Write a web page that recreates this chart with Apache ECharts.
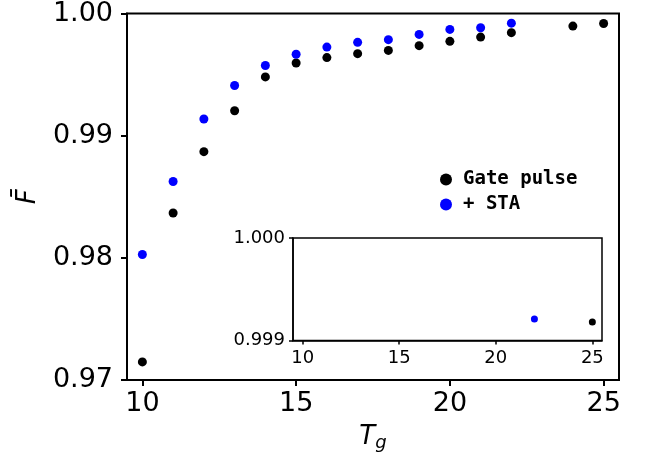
<!DOCTYPE html>
<html>
<head>
<meta charset="utf-8">
<script src="https://cdn.jsdelivr.net/npm/echarts@6/dist/echarts.min.js"></script>
<style>html,body{margin:0;padding:0;background:#fff;}#c{width:651px;height:458px;}</style>
</head>
<body>
<div id="c"></div>
<script>
// Data
const gateX = [10, 11, 12, 13, 14, 15, 16, 17, 18, 19, 20, 21, 22, 24, 25];
const gateY = [0.97148, 0.98367, 0.98869, 0.99204, 0.99481, 0.99595, 0.99639, 0.99671, 0.99698, 0.99737, 0.99772, 0.99807, 0.99843, 0.99897, 0.99918];
const staX = [10, 11, 12, 13, 14, 15, 16, 17, 18, 19, 20, 21, 22];
const staY = [0.98027, 0.98625, 0.99136, 0.99411, 0.99574, 0.99666, 0.99725, 0.99764, 0.99786, 0.99829, 0.99870, 0.99883, 0.99921];
const xTicks = [10, 15, 20, 25];
const yTicks = [0.97, 0.98, 0.99, 1.00];
const insetYTicks = [0.999, 1.000];
const seriesNames = ['Gate pulse', '+ STA'];

const pairs = (xs, ys) => xs.map((x, i) => [x, ys[i]]);
const FONT = 'DejaVu Sans';

const chart = echarts.init(document.getElementById('c'), null, {renderer: 'canvas'});
chart.setOption({
  animation: false,
  backgroundColor: '#fff',
  grid: [
    {left: 127, top: 13, width: 492, height: 367, show: true, borderColor: '#000', borderWidth: 2, backgroundColor: 'transparent'},
    {left: 293, top: 238, width: 309, height: 102.5, show: true, borderColor: '#000', borderWidth: 1.5, backgroundColor: '#fff'}
  ],
  legend: {
    data: seriesNames,
    orient: 'vertical',
    left: 435, top: 165,
    itemWidth: 12, itemHeight: 12, itemGap: 6,
    icon: 'circle',
    textStyle: {fontFamily: 'DejaVu Sans Mono', fontWeight: 'bold', fontSize: 19, color: '#000', padding: [0, 0, 0, 6]}
  },
  xAxis: [
    {
      gridIndex: 0, type: 'value', min: 9.5, max: 25.5,
      axisLine: {show: true, onZero: false, lineStyle: {color: '#000', width: 2}},
      axisTick: {show: true, length: 6, lineStyle: {width: 2, color: '#000'}, customValues: xTicks},
      axisLabel: {customValues: xTicks, fontFamily: FONT, fontSize: 27, color: '#000', margin: 10},
      splitLine: {show: false},
      name: '{t|T}{g|g}', nameLocation: 'middle', nameGap: 38,
      nameTextStyle: {
        rich: {
          t: {fontFamily: FONT, fontStyle: 'italic', fontSize: 26, color: '#000', lineHeight: 28},
          g: {fontFamily: FONT, fontStyle: 'italic', fontSize: 18, color: '#000', lineHeight: 28, padding: [12, 0, 0, 0]}
        }
      }
    },
    {
      gridIndex: 1, type: 'value', min: 9.5, max: 25.5,
      axisLine: {show: true, onZero: false, lineStyle: {color: '#000', width: 1.5}},
      axisTick: {show: true, length: 4, lineStyle: {width: 1.5, color: '#000'}, customValues: xTicks},
      axisLabel: {customValues: xTicks, fontFamily: FONT, fontSize: 18, color: '#000', margin: 9},
      splitLine: {show: false}
    }
  ],
  yAxis: [
    {
      gridIndex: 0, type: 'value', min: 0.97, max: 1.0,
      axisLine: {show: true, onZero: false, lineStyle: {color: '#000', width: 2}},
      axisTick: {show: true, length: 6, lineStyle: {width: 2, color: '#000'}, customValues: yTicks},
      axisLabel: {customValues: yTicks, formatter: v => v.toFixed(2), fontFamily: FONT, fontSize: 27, color: '#000', margin: 14},
      splitLine: {show: false},
      name: 'F\u0304', nameLocation: 'middle', nameRotate: 90, nameGap: 86,
      nameTextStyle: {fontFamily: FONT, fontStyle: 'italic', fontSize: 26, color: '#000'}
    },
    {
      gridIndex: 1, type: 'value', min: 0.999, max: 1.0,
      axisLine: {show: true, onZero: false, lineStyle: {color: '#000', width: 1.5}},
      axisTick: {show: true, length: 4, lineStyle: {width: 1.5, color: '#000'}, customValues: insetYTicks},
      axisLabel: {customValues: insetYTicks, formatter: v => v.toFixed(3), fontFamily: FONT, fontSize: 18, color: '#000', margin: 8},
      splitLine: {show: false}
    }
  ],
  series: [
    {name: seriesNames[0], type: 'scatter', xAxisIndex: 0, yAxisIndex: 0, symbolSize: 9, itemStyle: {color: '#000', opacity: 1}, data: pairs(gateX, gateY)},
    {name: seriesNames[1], type: 'scatter', xAxisIndex: 0, yAxisIndex: 0, symbolSize: 9, itemStyle: {color: '#0000ff', opacity: 1}, data: pairs(staX, staY)},
    {name: seriesNames[0], type: 'scatter', xAxisIndex: 1, yAxisIndex: 1, symbolSize: 7, clip: true, itemStyle: {color: '#000', opacity: 1}, data: pairs(gateX, gateY)},
    {name: seriesNames[1], type: 'scatter', xAxisIndex: 1, yAxisIndex: 1, symbolSize: 7, clip: true, itemStyle: {color: '#0000ff', opacity: 1}, data: pairs(staX, staY)}
  ]
});
</script>
</body>
</html>
